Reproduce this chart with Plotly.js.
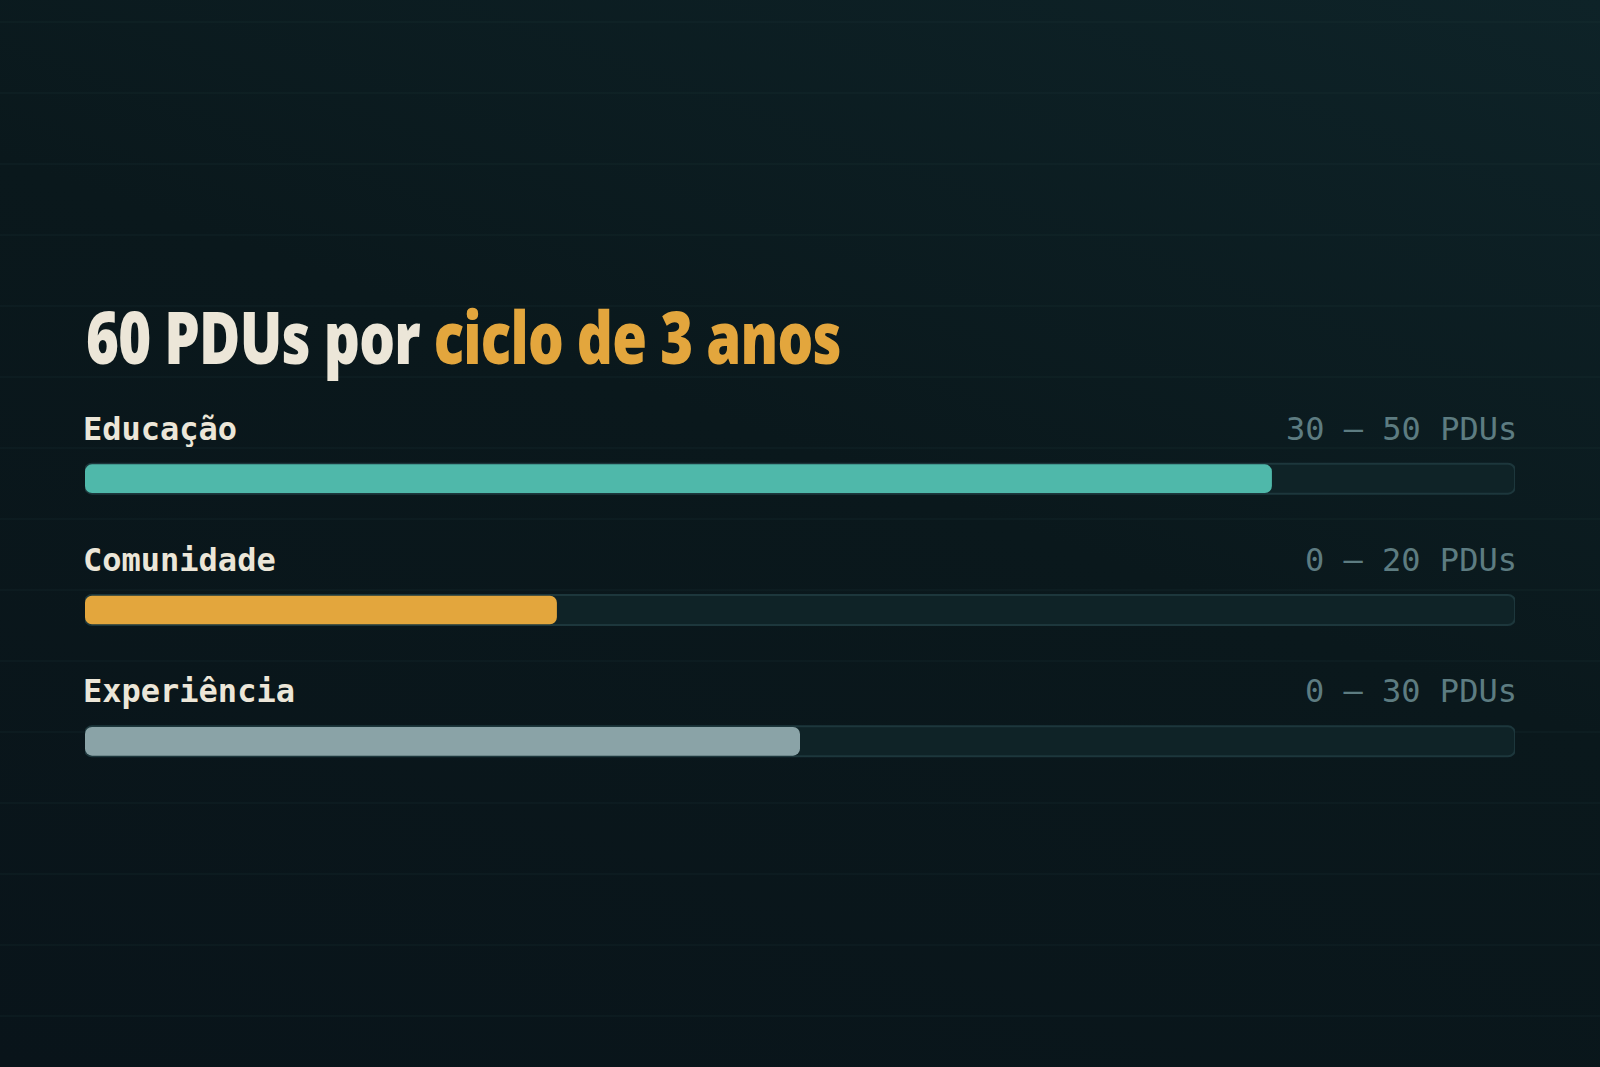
<!DOCTYPE html>
<html>
<head>
<meta charset="utf-8">
<script src="https://cdn.plot.ly/plotly-3.0.1.min.js"></script>
<style>
  html, body { margin: 0; padding: 0; width: 1600px; height: 1067px; overflow: hidden;
    background: linear-gradient(200deg, #0e2328 0%, #0a181c 45%, #09141a 100%); }
  #chart { width: 1600px; height: 1067px; }
</style>
</head>
<body>
<div id="chart"></div>
<script>
// ---- data ----
const categories = ["Educação", "Comunidade", "Experiência"];
const minPDUs = [30, 0, 0];
const maxPDUs = [50, 20, 30];
const fillPercent = [83, 33, 50];   // share of the 60-PDU cycle shown by each bar
const trackPercent = 100;
const barColors = ["#4fb8aa", "#e3a63d", "#8aa3a7"];
const titleMain = "60 PDUs por ";
const titleAccent = "ciclo de 3 anos";

const rangeLabels = minPDUs.map((m, i) => m + " — " + maxPDUs[i] + " PDUs");

const W = 1600, H = 1067;
const xDomain = [85 / W, 1515 / W];
const yDomain = [1 - 807 / H, 1 - 413 / H];

// bars are given an explicit base so Plotly rounds both ends
function bars(vals, color, width, line) {
  return { type: "bar", orientation: "h", y: categories, x: vals,
    base: vals.map(() => 0), width: width,
    marker: { color: color, line: line || { width: 0 } }, hoverinfo: "skip", showlegend: false };
}
const traces = [
  bars(categories.map(() => trackPercent), "#0f2327", 0.229, { color: "#1d373c", width: 2 }),
  bars(fillPercent, barColors, 0.218)
];

const shapes = [];
for (let k = 0; k < 15; k++) {
  const py = 22 + 71 * k;
  shapes.push({ type: "line", xref: "paper", yref: "paper", x0: 0, x1: 1,
    y0: 1 - py / H, y1: 1 - py / H, line: { color: "rgba(40,70,70,0.28)", width: 1 }, layer: "below" });
}

const annotations = [];
categories.forEach((c, i) => {
  annotations.push({ xref: "x", yref: "y", x: 0, y: c, xanchor: "left", yanchor: "middle",
    yshift: 50, xshift: -4, showarrow: false, text: "<b>" + c + "</b>",
    font: { family: "DejaVu Sans Mono", size: 32, color: "#ece6d8" } });
  annotations.push({ xref: "x", yref: "y", x: trackPercent, y: c, xanchor: "right", yanchor: "middle",
    yshift: 50, xshift: 4, showarrow: false, text: rangeLabels[i],
    font: { family: "DejaVu Sans Mono", size: 32, color: "#5d7c81" } });
});
annotations.push({ xref: "paper", yref: "paper", x: 84 / W, y: 1 - 335 / H, xanchor: "left", yanchor: "middle",
  showarrow: false, align: "left",
  text: titleMain + "<span style='color:#e3a63d'>" + titleAccent + "</span>",
  font: { family: "Open Sans", size: 73, weight: 800, color: "#ece6d8" } });

const layout = {
  width: W, height: H,
  margin: { l: 0, r: 0, t: 0, b: 0 },
  paper_bgcolor: "rgba(0,0,0,0)", plot_bgcolor: "rgba(0,0,0,0)",
  barmode: "overlay", barcornerradius: 7,
  xaxis: { domain: xDomain, range: [0, trackPercent], visible: false, fixedrange: true },
  yaxis: { domain: yDomain, range: [2.5, -0.5], visible: false, fixedrange: true, type: "category" },
  shapes: shapes, annotations: annotations, showlegend: false
};

Plotly.newPlot("chart", traces, layout, { displayModeBar: false, staticPlot: true }).then(() => {
  // squeeze the title horizontally to a condensed width
  const anns = document.querySelectorAll(".annotation-text");
  const t = anns[anns.length - 1];
  t.style.letterSpacing = "-1px";
  const bb = t.getBBox();
  const target = 755;
  const s = target / bb.width;
  const x0 = bb.x;
  t.setAttribute("transform", "translate(" + x0 + ",0) scale(" + s + ",1) translate(" + (-x0) + ",0)");
});
</script>
</body>
</html>
